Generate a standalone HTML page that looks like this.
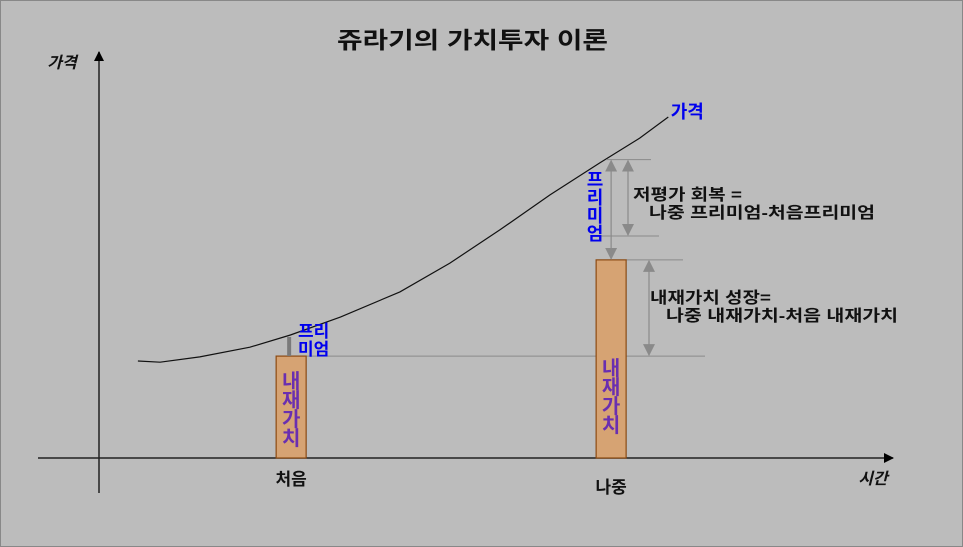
<!DOCTYPE html>
<html><head><meta charset="utf-8">
<style>
html,body{margin:0;padding:0;background:#bcbcbc;}
svg{display:block;font-family:"Liberation Sans","Noto Sans CJK KR",sans-serif;}
</style></head>
<body>
<svg id="chart" width="963" height="547" viewBox="0 0 963 547">
<rect x="0.5" y="0.5" width="962" height="546" fill="#bcbcbc" stroke="#888"/>
<text x="337" y="48" textLength="271" lengthAdjust="spacingAndGlyphs" font-size="23" font-weight="bold" fill="#111">쥬라기의 가치투자 이론</text>
<defs>
<marker id="ah" markerWidth="10" markerHeight="10" refX="9" refY="5" orient="auto" markerUnits="userSpaceOnUse"><path d="M0,0 L10,5 L0,10 z" fill="#000"/></marker>
<marker id="ga" markerWidth="12" markerHeight="14" refX="11" refY="6" orient="auto-start-reverse" markerUnits="userSpaceOnUse"><path d="M0,0 L12,6 L0,12 z" fill="#8a8a8a"/></marker>
</defs>
<g id="axes"></g>
<g id="marks"></g>
<g id="labels"></g>
</svg>
<script>
const curveTime = [4.9, 7.7, 12.7, 19.0, 24.1, 30.4, 37.9, 44.2, 50.5, 56.8, 63.1, 68.1, 71.7];
const curvePrice = [23.9, 23.6, 24.9, 27.3, 30.3, 34.7, 40.9, 48.0, 56.2, 64.8, 72.7, 78.8, 84.0];
const barCategories = ['처음', '나중'];
const barTime = [24.2, 64.5];
const barValue = [25.1, 48.8];
const barPrice = [30.3, 73.5];

const X0 = 99, Y0 = 458;
function xs(t){ return X0 + t * 7.94; }
function ys(p){ return Y0 - p * 4.06; }
const NS = 'http://www.w3.org/2000/svg';
function mk(tag, attrs, parent){
  const e = document.createElementNS(NS, tag);
  for (const k in attrs) e.setAttribute(k, attrs[k]);
  parent.appendChild(e); return e;
}
const axes = document.getElementById('axes');
const marks = document.getElementById('marks');
const labels = document.getElementById('labels');

let el = mk('line', {x1:38, y1:Y0, x2:893, y2:Y0, stroke:'#222', 'stroke-width':1.5, 'marker-end':'url(#ah)'}, axes);


el = mk('line', {x1:X0, y1:493, x2:X0, y2:52, stroke:'#222', 'stroke-width':1.5, 'marker-end':'url(#ah)'}, axes);


el = mk('text', {x:62, y:68, 'font-size':16, 'font-style':'italic', 'font-weight':'bold', fill:'#111', 'text-anchor':'middle'}, axes);
el.textContent = '가격';


el = mk('text', {x:873, y:484, 'font-size':16, 'font-style':'italic', 'font-weight':'bold', fill:'#111', 'text-anchor':'middle'}, axes);
el.textContent = '시간';



let d = '';
curveTime.forEach((t,i)=>{ d += (i ? ' L' : 'M') + xs(t).toFixed(1) + ',' + ys(curvePrice[i]).toFixed(1); });
el = mk('path', {d:d, fill:'none', stroke:'#111', 'stroke-width':1.2}, marks);


const lastI = curveTime.length - 1;
el = mk('text', {x:xs(curveTime[lastI]) + 19, y:ys(curvePrice[lastI]) + 1, 'font-size':18, 'font-weight':'bold', fill:'#0000ee', 'text-anchor':'middle'}, labels);
el.textContent = '가격';



const yb0 = ys(barValue[0]), yb1 = ys(barValue[1]), yp1 = ys(barPrice[1]);
const yp0 = ys(barPrice[0]);
function hline(x1,x2,y,name){
  const l = mk('line', {x1:x1, x2:x2, y1:y, y2:y, stroke:'#8a8a8a', 'stroke-width':1}, marks);
  
  
}
hline(xs(barTime[0]) + 15, 705, yb0, 'initial-value-guide');
hline(xs(barTime[1]) + 15, 683, yb1, 'later-value-guide');
hline(xs(barTime[1]) - 5, 651, yp1, 'later-price-guide');
hline(xs(barTime[1]) - 10, 659, 236, 'later-premium-guide');

barCategories.forEach((c,i)=>{
  const cx = xs(barTime[i]), top = ys(barValue[i]);
  const r = mk('rect', {x:cx-15, y:top, width:30, height:Y0-top, fill:'#d6a373', stroke:'#8b4a12', 'stroke-width':1.2}, marks);
  
  
  const chars = ['내','재','가','치'];
  const startY = i ? top + 115 : top + 32;
  const tg = mk('text', {x:cx, 'font-size':20, 'font-weight':'bold', fill:'#6a2fb0', 'text-anchor':'middle'}, marks);
  
  
  chars.forEach((ch,k)=>{ const s = mk('tspan', {x:cx, y:startY + k*19}, tg); s.textContent = ch; });
  const lbl = mk('text', {x:cx, y:i ? 493 : 485, 'font-size':17, 'font-weight':'bold', fill:'#111', 'text-anchor':'middle'}, labels);
  lbl.textContent = c;
  
  
});

function darrow(x,y1,y2,name){
  const a = mk('line', {x1:x, x2:x, y1:y1+1, y2:y2-1, stroke:'#8a8a8a', 'stroke-width':1.2, 'marker-start':'url(#ga)', 'marker-end':'url(#ga)'}, marks);
  
  
}
darrow(xs(barTime[1]), yp1, yb1, 'later-premium-arrow');
darrow(628, yp1, 236, 'undervaluation-recovery-arrow');
darrow(649, yb1, yb0, 'value-growth-arrow');
el = mk('line', {x1:xs(barTime[0]) - 2, x2:xs(barTime[0]) - 2, y1:yb0, y2:yp0 + 2, stroke:'#7a7a7a', 'stroke-width':4}, marks);



el = mk('text', {x:298, 'font-size':17, 'font-weight':'bold', fill:'#0000ee'}, labels);


let s = mk('tspan', {x:298, y:337}, el); s.textContent = '프리';
s = mk('tspan', {x:298, y:355}, el); s.textContent = '미엄';
el = mk('text', {x:595, 'font-size':18, 'font-weight':'bold', fill:'#0000ee', 'text-anchor':'middle'}, labels);


['프','리','미','엄'].forEach((ch,k)=>{ const t = mk('tspan', {x:595, y:186 + k*18}, el); t.textContent = ch; });

function note(x,y,len,txt,parent){
  const t = mk('tspan', {x:x, y:y, textLength:len, lengthAdjust:'spacingAndGlyphs'}, parent);
  t.textContent = txt;
}
el = mk('text', {'font-size':16, 'font-weight':'bold', fill:'#111'}, labels);


note(633, 200, 109, '저평가 회복 =', el);
note(649, 218, 226, '나중 프리미엄-처음프리미엄', el);
el = mk('text', {'font-size':16, 'font-weight':'bold', fill:'#111'}, labels);


note(650, 303, 121, '내재가치 성장=', el);
note(666, 321, 232, '나중 내재가치-처음 내재가치', el);
</script>
</body></html>
